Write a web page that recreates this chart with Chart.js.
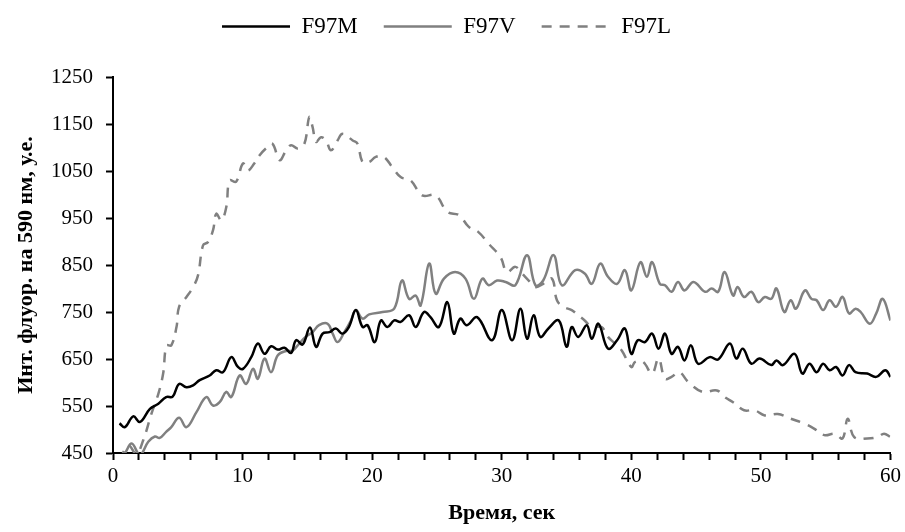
<!DOCTYPE html>
<html><head><meta charset="utf-8">
<script src="https://cdn.jsdelivr.net/npm/chart.js@4/dist/chart.umd.min.js"></script>
<style>html,body{margin:0;padding:0;background:#fff;}#wrap{width:905px;height:532px;}</style>
</head><body><div id="wrap"><canvas id="c" width="905" height="532"></canvas></div>
<script>
const seriesNames = ['F97M', 'F97V', 'F97L'];

const timeM = [0.5,0.92,1.56,2.08,2.85,3.5,4.1,4.6,5.1,5.67,6.18,6.69,7.46,7.97,8.49,9.13,9.64,10.03,10.67,11.18,11.69,12.2,12.72,13.23,13.74,14.13,14.64,15.2,15.67,16.18,16.7,17.2,17.7,18.2,18.74,19.26,19.64,20.2,20.67,21.18,21.7,22.2,22.85,23.36,24.0,24.5,25.15,25.8,26.3,26.8,27.3,28.1,29.25,30.0,30.8,31.44,31.95,32.46,32.97,33.6,34.4,35.0,35.4,35.9,36.56,36.95,37.46,38.2,38.9,39.5,40.0,40.5,41.05,41.6,42.1,42.6,43.1,43.6,44.1,44.6,45.15,46.05,46.7,47.6,48.1,48.6,49.26,49.9,50.8,51.2,51.7,52.6,53.2,53.75,54.3,54.8,55.3,55.8,56.3,56.8,57.3,58.2,58.9,59.6,60];
const valuesM = [513,505,528,516,544,555,569,570,597,590,594,605,615,626,622,654,633,629,654,683,661,677,670,674,663,690,681,717,676,704,707,715,704,718,754,718,722,686,732,718,732,729,743,718,750,739,718,771,704,736,722,739,690,754,690,757,693,743,697,715,732,676,718,697,722,693,725,672,690,715,661,690,686,704,672,704,661,676,647,679,640,654,649,683,651,672,640,651,637,647,637,661,619,640,622,640,626,633,615,637,622,619,612,626,612];

const timeV = [0.5,0.9,1.44,2.08,2.72,3.23,3.6,4.1,4.5,5.1,5.67,6.44,7.2,7.72,8.23,8.74,9.13,9.77,10.28,10.8,11.18,11.69,12.2,12.72,13.36,13.87,14.38,14.9,15.4,15.9,16.56,16.95,17.33,17.85,18.36,18.74,19.26,19.77,20.8,21.7,22.3,22.85,23.36,23.74,24.4,24.9,25.54,26.4,27.2,27.85,28.5,29.0,29.64,30.3,31.05,31.95,32.6,33.2,34.0,34.64,35.67,36.4,36.95,37.6,38.2,38.9,39.5,40.0,40.7,41.2,41.6,42.2,42.6,43.1,43.6,44.1,44.8,45.7,46.2,46.7,47.2,47.85,48.2,48.7,49.26,49.8,50.3,50.8,51.2,51.8,52.3,52.7,53.4,53.9,54.3,54.8,55.3,55.8,56.3,56.8,57.3,57.7,58.4,58.9,59.4,60];
const valuesV = [440,449,470,446,474,485,482,495,505,525,505,537,569,551,558,580,569,615,597,629,608,651,622,658,667,668,683,698,707,722,725,704,686,707,732,754,736,745,750,757,817,778,785,764,853,789,821,835,821,778,821,807,817,814,807,871,807,817,871,807,839,832,810,853,825,810,839,796,856,825,856,810,807,793,814,796,814,793,800,793,835,785,803,782,793,771,782,778,800,750,775,757,796,778,775,754,775,761,782,747,757,750,725,747,778,732];

const timeL = [0.5,1.2,1.8,2.33,2.97,3.5,3.87,4.13,4.5,4.9,5.1,5.67,6.18,6.56,6.95,7.33,7.72,7.97,8.36,8.74,9.0,9.5,10.03,10.4,10.9,11.3,11.8,12.3,12.85,13.36,13.74,14.26,14.77,15.15,15.4,15.67,16.05,16.44,16.82,17.33,17.72,18.5,18.87,19.26,19.77,20.28,20.9,21.56,22.2,22.97,23.87,24.9,25.8,26.7,27.46,28.2,29.0,29.9,30.4,31.05,31.56,32.08,32.6,33.2,33.87,34.26,34.77,35.4,35.9,36.4,36.95,37.7,38.2,38.74,39.26,40.0,40.3,40.9,41.6,42.1,42.6,43.1,43.7,44.4,45.5,46.6,47.2,47.85,48.7,49.5,50.3,51.3,52.3,53.4,54.1,54.9,55.7,56.3,56.7,57.2,58.2,59.0,59.5,60];
const valuesL = [435,466,448,477,534,576,619,679,679,718,761,782,803,828,892,899,924,959,945,973,1030,1027,1066,1051,1066,1083,1098,1108,1073,1094,1105,1098,1108,1165,1144,1112,1122,1115,1094,1115,1129,1115,1108,1069,1069,1080,1080,1058,1037,1030,998,998,963,956,931,920,895,867,835,846,832,817,803,810,821,775,761,754,743,732,718,718,697,683,668,633,644,644,619,651,608,612,622,601,580,583,569,558,541,541,530,533,523,512,502,488,491,481,523,484,481,484,491,484];

const xTicks = [0,2,4,6,8,10,12,14,16,18,20,22,24,26,28,30,32,34,36,38,40,42,44,46,48,50,52,54,56,58,60];
const xLabelTicks = [0,10,20,30,40,50,60];
const yTicks = [450,550,650,750,850,950,1050,1150,1250];
const xTitle = 'Время, сек';
const yTitle = 'Инт. флуор. на 590 нм, у.е.';

const toPts = (ts, vs) => ts.map((t, i) => ({x: t, y: vs[i]}));
const FONT = 'Liberation Serif';

const legendSpacer = {
  id: 'legendSpacer',
  beforeInit(chart) {
    const fit = chart.legend.fit;
    chart.legend.fit = function () { fit.call(this); this.height += 29; };
  }
};

new Chart(document.getElementById('c'), {
  type: 'line',
  data: {
    datasets: [
      {label: seriesNames[0], data: toPts(timeM, valuesM), borderColor: '#000000', backgroundColor: '#000000', borderWidth: 2.5},
      {label: seriesNames[1], data: toPts(timeV, valuesV), borderColor: '#808080', backgroundColor: '#808080', borderWidth: 2.5},
      {label: seriesNames[2], data: toPts(timeL, valuesL), borderColor: '#808080', backgroundColor: '#808080', borderWidth: 2.5, borderDash: [10, 8]}
    ]
  },
  options: {
    responsive: false,
    animation: false,
    devicePixelRatio: 1,
    layout: {padding: {top: -11, right: 12, bottom: 0, left: 0}},
    elements: {point: {radius: 0}, line: {tension: 0.4, fill: false}},
    plugins: {
      tooltip: {enabled: false},
      legend: {
        position: 'top',
        align: 'center',
        labels: {
          boxWidth: 68,
          boxHeight: 0,
          padding: 26,
          color: '#000',
          font: {family: FONT, size: 23}
        }
      }
    },
    scales: {
      x: {
        type: 'linear',
        min: 0, max: 60,
        afterBuildTicks: s => { s.ticks = xTicks.map(v => ({value: v})); },
        afterFit: s => { s.height = 79; },
        border: {display: true, color: '#000', width: 2},
        grid: {display: true, drawOnChartArea: false, drawTicks: true, tickLength: 7, tickWidth: 2, tickColor: '#000'},
        ticks: {
          autoSkip: false, maxRotation: 0, padding: 4, color: '#000',
          font: {family: FONT, size: 21},
          callback: v => xLabelTicks.includes(v) ? String(v) : ''
        },
        title: {display: true, text: xTitle, color: '#000', font: {family: FONT, size: 22, weight: 'bold'}, padding: {top: 0, bottom: 5}}
      },
      y: {
        type: 'linear',
        min: 450, max: 1250,
        afterBuildTicks: s => { s.ticks = yTicks.map(v => ({value: v})); },
        afterFit: s => { s.width = 113; },
        border: {display: true, color: '#000', width: 2},
        grid: {display: true, drawOnChartArea: false, drawTicks: true, tickLength: 7, tickWidth: 2, tickColor: '#000'},
        ticks: {padding: 13, color: '#000', font: {family: FONT, size: 21}, callback: v => String(v)},
        title: {display: true, text: yTitle, color: '#000', font: {family: FONT, size: 22, weight: 'bold'}, padding: {top: 13, bottom: 0}}
      }
    }
  },
  plugins: [legendSpacer]
});
</script></body></html>
